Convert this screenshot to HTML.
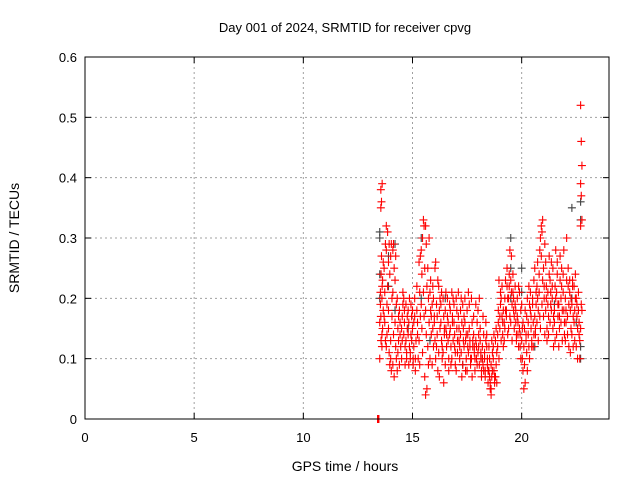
<!DOCTYPE html>
<html><head><meta charset="utf-8"><style>
body{margin:0;background:#fff;}
svg{display:block;font-family:"Liberation Sans",Arial,sans-serif;}
</style></head><body>
<svg id="chart" width="640" height="480" viewBox="0 0 640 480" xmlns="http://www.w3.org/2000/svg">
<rect x="0" y="0" width="640" height="480" fill="#fff"/>
<text x="345" y="32" font-size="13" text-anchor="middle">Day 001 of 2024, SRMTID for receiver cpvg</text>
<g id="grid"></g>
<g id="axes"></g>
<g id="gray"></g>
<g id="red"></g>
<rect x="85" y="57" width="524" height="362" fill="none" stroke="#000" stroke-width="1"/>
<text x="345" y="471" font-size="14" text-anchor="middle">GPS time / hours</text>
<text x="0" y="0" font-size="14" text-anchor="middle" transform="translate(19,238) rotate(-90)">SRMTID / TECUs</text>
</svg>
<script>
const xTicks=[0,5,10,15,20];
const yTicks=[0,0.1,0.2,0.3,0.4,0.5,0.6];
const yTickLabels=["0","0.1","0.2","0.3","0.4","0.5","0.6"];
const redTimes=[13.4,13.5,13.55,13.6,13.7,13.8,13.9,14.0,14.1,14.2,14.3,14.4,14.5,14.6,14.7,14.8,14.9,15.0,15.1,15.2,15.3,15.4,15.5,15.6,15.7,15.8,15.9,16.0,16.1,16.2,16.3,16.4,16.5,16.6,16.7,16.8,16.9,17.0,17.1,17.2,17.3,17.4,17.5,17.6,17.7,17.8,17.9,18.0,18.1,18.2,18.3,18.4,18.5,18.6,18.7,18.8,18.9,19.0,19.1,19.2,19.3,19.4,19.5,19.6,19.7,19.8,19.9,20.0,20.1,20.2,20.3,20.4,20.5,20.6,20.7,20.8,20.9,21.0,21.1,21.2,21.3,21.4,21.5,21.6,21.7,21.8,21.9,22.0,22.1,22.2,22.3,22.4,22.5,22.6,22.7];
const redVals=[[0,0,0,0],[.16,.21,.13,.10,.19,.24],[.35,.36,.39,.38,.27,.22,.17],[.2,.15,.18,.14,.23,.26,.12],[.17,.21,.29,.25,.16,.13],[.12,.19,.22,.28,.14,.31,.32],[.26,.29,.24,.15,.11,.09,.18],[.1,.08,.2,.27,.29,.17,.13],[.28,.29,.25,.21,.14,.07,.09],[.23,.27,.19,.16,.12,.1],[.2,.15,.13,.08,.11,.17],[.18,.14,.12,.09,.16],[.15,.13,.19,.1,.17,.21],[.14,.18,.12,.2,.16,.09],[.13,.11,.17,.19,.1,.15],[.18,.16,.12,.14,.09,.2],[.1,.14,.17,.11,.19,.13],[.15,.09,.12,.18,.1,.16],[.2,.1,.13,.17,.08],[.18,.14,.1,.22,.16],[.26,.21,.17,.13,.09,.27],[.28,.24,.3,.19,.15,.11],[.33,.32,.25,.21,.17,.07],[.32,.29,.22,.18,.14,.05,.04],[.25,.2,.16,.12,.09,.3],[.21,.18,.14,.1,.23,.17],[.19,.15,.12,.09,.22,.2],[.17,.13,.1,.16,.25,.26],[.19,.14,.08,.12,.17,.23],[.22,.18,.15,.11,.07,.2],[.16,.13,.1,.19,.21,.12],[.2,.17,.14,.11,.06,.15],[.18,.15,.12,.09,.21,.14],[.17,.13,.1,.2,.16,.08],[.19,.15,.12,.14,.18,.09],[.21,.17,.13,.1,.16,.2],[.16,.12,.09,.19,.14,.11],[.2,.15,.11,.08,.18,.13],[.17,.13,.1,.21,.15,.12],[.14,.11,.07,.18,.2,.16],[.19,.15,.12,.09,.13,.17],[.16,.13,.1,.2,.08,.14],[.18,.14,.11,.08,.12,.21],[.15,.12,.09,.19,.13,.1],[.2,.16,.13,.1,.07,.12],[.14,.11,.08,.17,.12,.1],[.13,.1,.16,.19,.12,.09],[.11,.14,.09,.18,.12,.2],[.13,.1,.08,.15,.11,.07],[.12,.09,.14,.1,.17,.08],[.11,.08,.13,.1,.07,.16],[.14,.1,.08,.12,.09,.06],[.08,.1,.06,.12,.07,.05],[.09,.07,.11,.05,.13,.08,.04],[.1,.08,.06,.12,.14,.07],[.13,.09,.11,.07,.15,.06],[.12,.16,.1,.14,.18,.23],[.15,.19,.13,.17,.21,.2],[.17,.14,.18,.22,.16,.12],[.16,.2,.23,.13,.15,.18],[.18,.22,.14,.17,.25,.2],[.2,.24,.17,.15,.22,.28],[.23,.27,.19,.16,.21,.13],[.21,.18,.15,.24,.2,.17],[.19,.16,.13,.22,.18,.14],[.17,.14,.12,.2,.16,.22],[.15,.12,.18,.21,.14,.1],[.13,.1,.16,.19,.15,.08],[.12,.09,.06,.05,.15,.18],[.14,.11,.08,.13,.17,.2],[.16,.12,.19,.14,.22,.1],[.18,.15,.13,.21,.17,.12],[.2,.16,.14,.19,.12,.23],[.17,.14,.21,.25,.15,.19],[.22,.26,.18,.16,.2,.13],[.24,.28,.3,.21,.17,.15],[.27,.31,.33,.32,.19,.23],[.25,.22,.29,.17,.2,.14],[.18,.22,.15,.26,.2,.13],[.21,.17,.24,.19,.14,.27],[.23,.19,.26,.16,.21,.18],[.2,.25,.17,.22,.15,.12],[.18,.22,.28,.16,.13,.2],[.21,.26,.17,.14,.24,.19],[.19,.15,.23,.12,.17,.27],[.16,.22,.13,.2,.25,.18],[.24,.18,.14,.21,.28,.16],[.2,.16,.23,.13,.18,.3],[.17,.22,.19,.14,.25,.12],[.21,.18,.15,.23,.11,.2],[.19,.23,.17,.14,.22,.12],[.22,.18,.2,.16,.13,.24],[.2,.17,.15,.12,.19,.1],[.18,.16,.13,.21,.14,.1],[.52,.46,.42,.39,.37,.33,.32,.19,.18,.15]];
const grayTimes=[13.5,13.9,14.2,14.8,15.4,15.8,16.5,17.3,18.2,19.5,20.0,20.6,21.5,22.3,22.5,22.7];
const grayVals=[[.24,.31,.3,.2],[.27,.22],[.29,.18],[.15],[.3,.2],[.13],[.2],[.09],[.1],[.3,.25,.2],[.21,.25],[.12],[.19],[.35,.2],[.16],[.36,.33,.1,.12]];

const L=85,R=609,T=57,B=419,XMAX=24,YMAX=0.6;
const sx=v=>L+(v/XMAX)*(R-L);
const sy=v=>B-(v/YMAX)*(B-T);
const NS="http://www.w3.org/2000/svg";
function mk(tag,attrs,parent){const e=document.createElementNS(NS,tag);for(const k in attrs)e.setAttribute(k,attrs[k]);parent.appendChild(e);return e;}
const grid=document.getElementById('grid'),axes=document.getElementById('axes');
xTicks.forEach(v=>{
  const x=sx(v);
  if(v>0){const g=mk('line',{x1:x,x2:x,y1:T,y2:B,stroke:'#a0a0a0','stroke-dasharray':'2,3'},grid);
  
  }
  const t1=mk('line',{x1:x,x2:x,y1:B,y2:B-6,stroke:'#000'},axes);
  
  
  const t2=mk('line',{x1:x,x2:x,y1:T,y2:T+6,stroke:'#000'},axes);
  
  
  const lb=mk('text',{x:x,y:442,'font-size':13,'text-anchor':'middle'},axes);
  lb.textContent=String(v);
  
  
});
yTicks.forEach((v,i)=>{
  const y=sy(v);
  if(v>0&&v<YMAX){const g=mk('line',{x1:L,x2:R,y1:y,y2:y,stroke:'#a0a0a0','stroke-dasharray':'2,3'},grid);
  
  }
  const t1=mk('line',{x1:L,x2:L+6,y1:y,y2:y,stroke:'#000'},axes);
  
  
  const t2=mk('line',{x1:R,x2:R-6,y1:y,y2:y,stroke:'#000'},axes);
  
  
  const lb=mk('text',{x:77,y:y+5,'font-size':13,'text-anchor':'end'},axes);
  lb.textContent=yTickLabels[i];
  
  
});
function plus(parent,t,v,color,name){
  const x=sx(t),y=sy(v);
  const p=mk('path',{d:`M${x-4} ${y}H${x+4}M${x} ${y-4}V${y+4}`,stroke:color,'stroke-width':1.1,fill:'none'},parent);
  
  
}
const gg=document.getElementById('gray'),rg=document.getElementById('red');
grayTimes.forEach((t,i)=>grayVals[i].forEach(v=>plus(gg,t,v,'#404040','gray-point')));
redTimes.forEach((t,i)=>redVals[i].forEach((v,j)=>plus(rg,t+(j%3)*0.03,v,'#ff0000','red-point')));
</script>
</body></html>
